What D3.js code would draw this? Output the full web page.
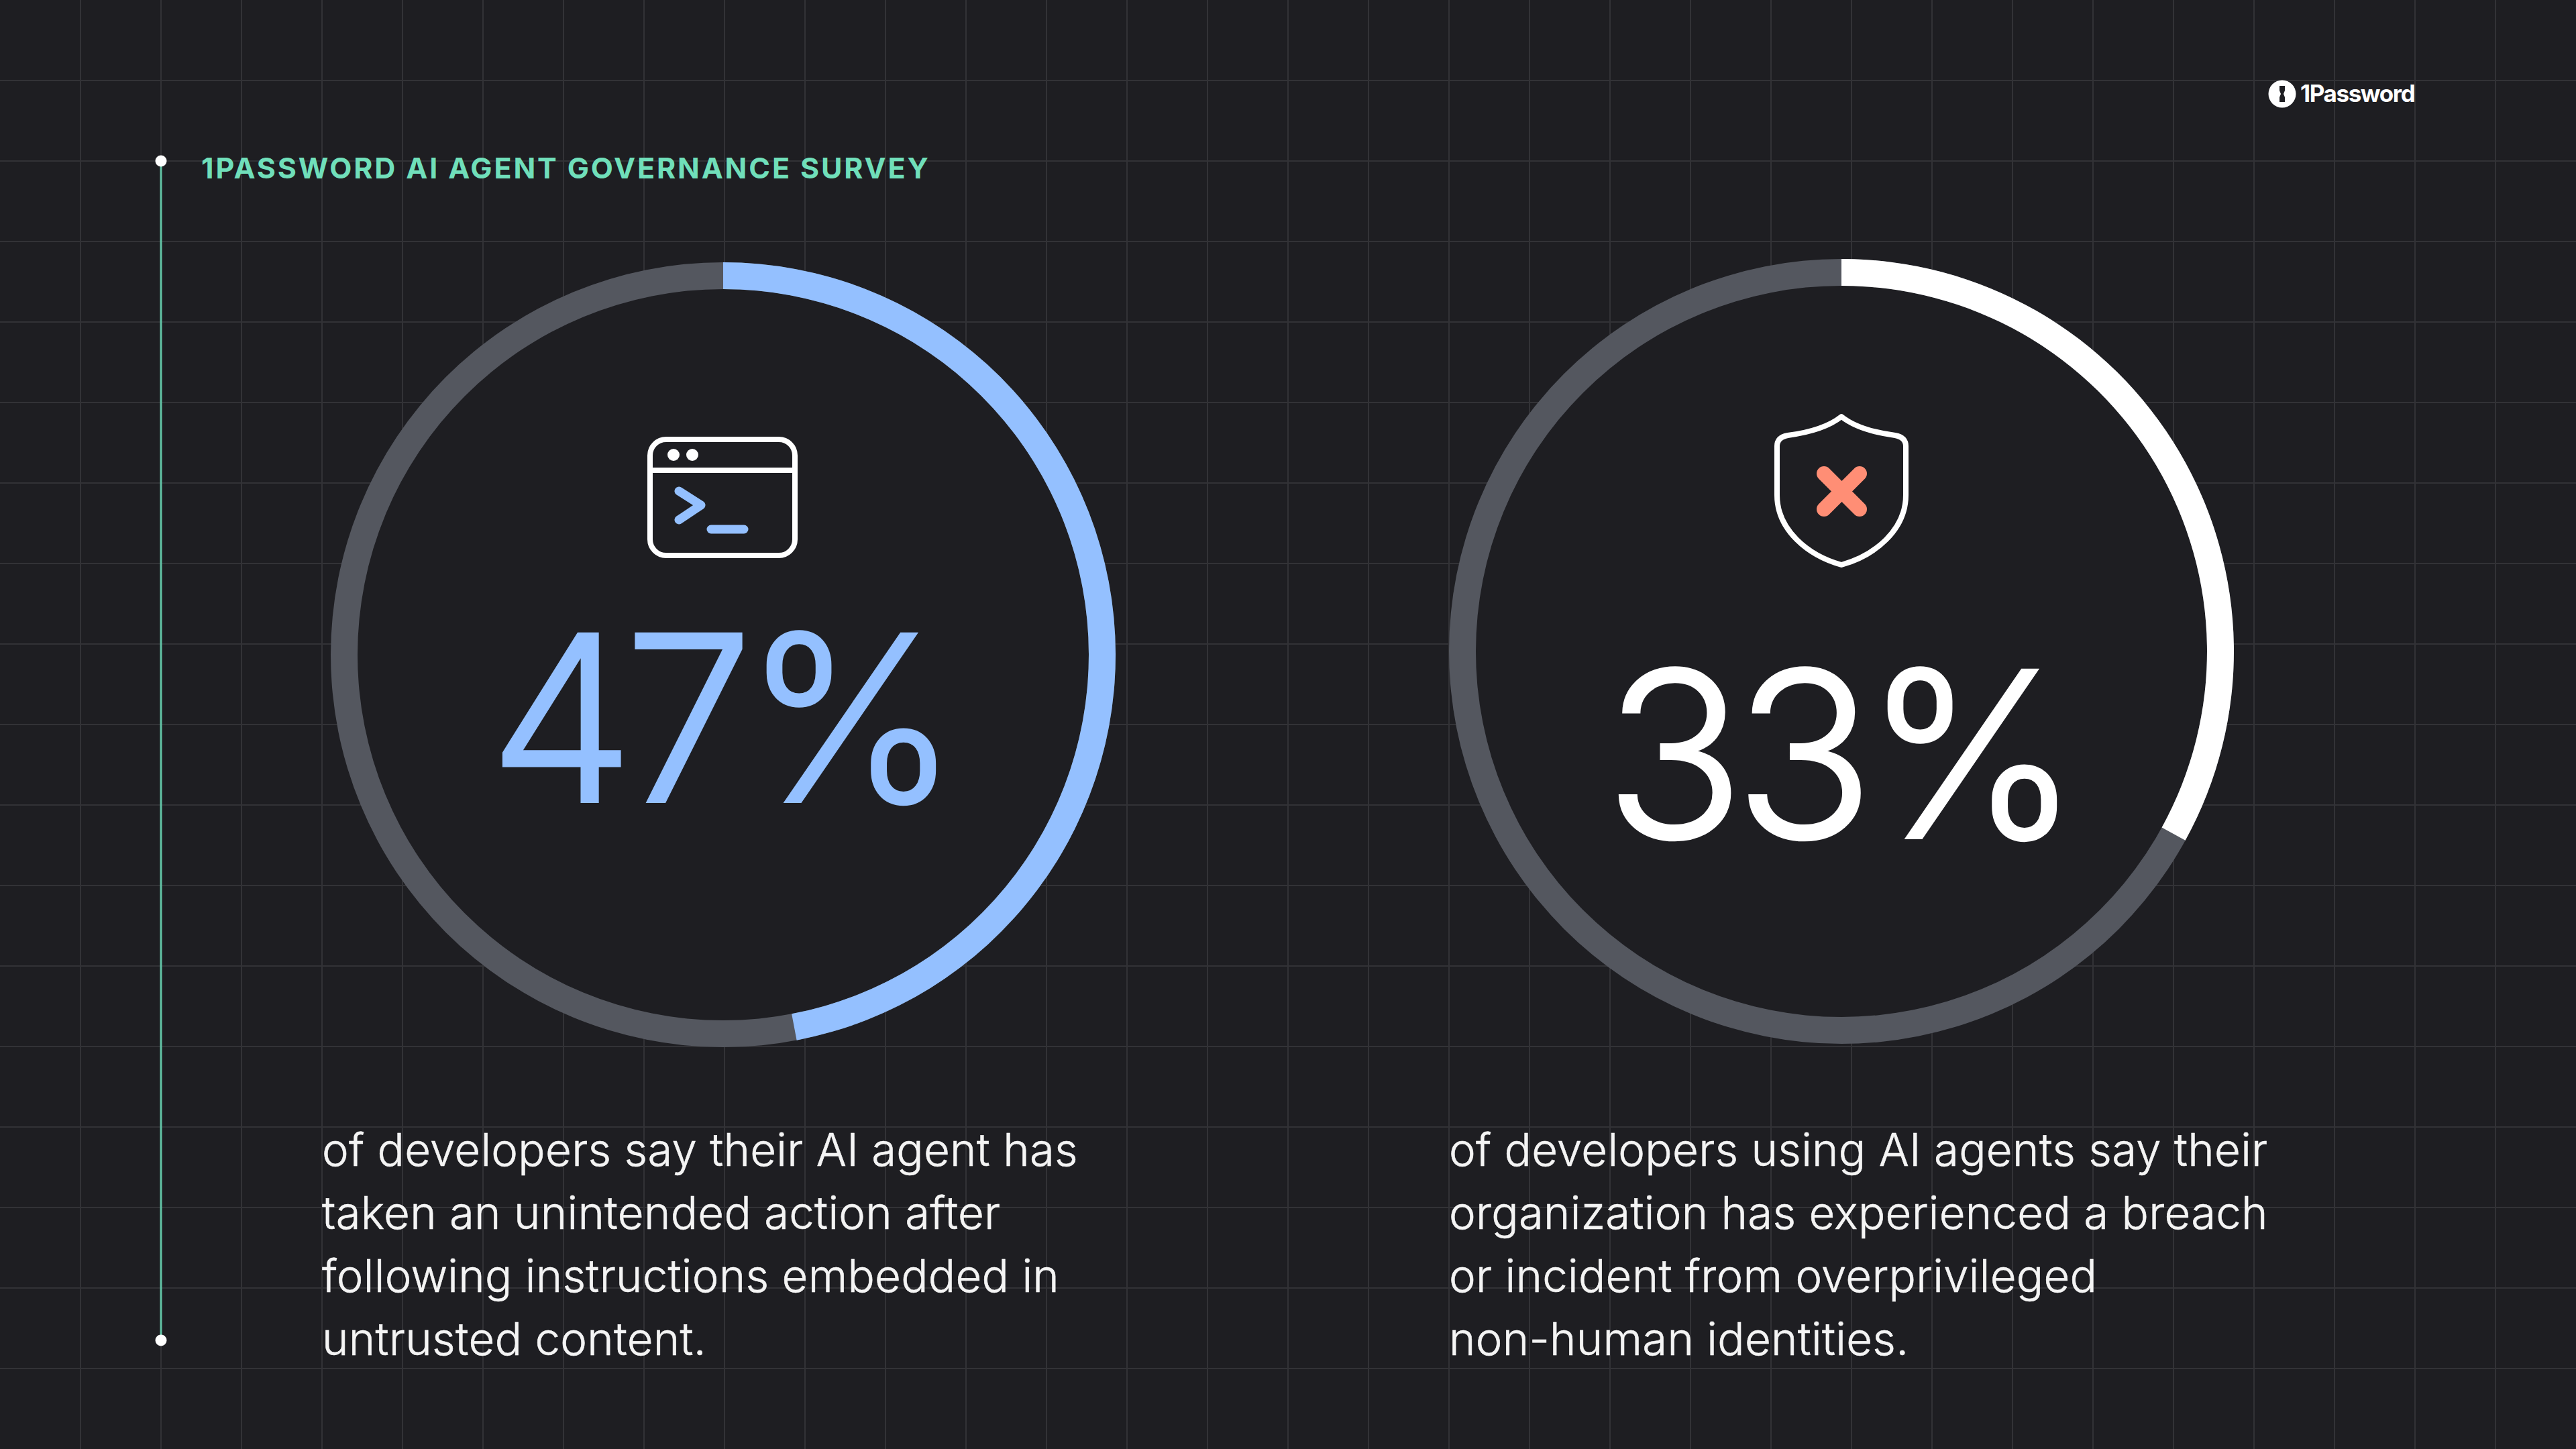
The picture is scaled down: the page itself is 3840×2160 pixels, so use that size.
<!DOCTYPE html>
<html><head><meta charset="utf-8">
<script src="https://cdn.jsdelivr.net/npm/d3@7"></script>
<style>html,body{margin:0;background:#1e1e22;overflow:hidden}svg{display:block}</style>
</head><body><svg id="c" width="3840" height="2160"></svg>
<script>
const surveyTitle = "1PASSWORD AI AGENT GOVERNANCE SURVEY";
const brand = "1Password";
const percentValues = [47, 33];
const percentLabels = ["47%", "33%"];
const captionsLeft = ["of developers say their AI agent has","taken an unintended action after","following instructions embedded in","untrusted content."];
const captionsRight = ["of developers using AI agents say their","organization has experienced a breach","or incident from overprivileged","non-human identities."];
const captions = [captionsLeft, captionsRight];
const gridCellsX = 31, gridCellsY = 17;

const W = 3840, H = 2160, BG = "#1e1e22";
const svg = d3.select("#c");
svg.append("rect").attr("width",W).attr("height",H).attr("fill",BG);
const gx = d3.scaleLinear().domain([0,32]).range([0,3840]);
const gy = d3.scaleLinear().domain([0,18]).range([0,2160]);
const grid = svg.append("g").attr("stroke","#323236").attr("stroke-width",2);
grid.selectAll(".v").data(d3.range(1,gridCellsX+1)).join("line").attr("x1",gx).attr("x2",gx).attr("y1",0).attr("y2",H);
grid.selectAll(".h").data(d3.range(1,gridCellsY+1)).join("line").attr("y1",gy).attr("y2",gy).attr("x1",0).attr("x2",W);

// timeline
svg.append("line").attr("x1",240).attr("x2",240).attr("y1",240).attr("y2",1998).attr("stroke","#62c4a6").attr("stroke-width",3);
svg.selectAll(".dot").data([240,1998]).join("circle").attr("cx",240).attr("cy",d=>d).attr("r",8.5).attr("fill","#fff");

svg.append("text").attr("x",300).attr("y",266).text(surveyTitle)
  .attr("font-family","Inter").attr("font-weight",700).attr("font-size",43).attr("letter-spacing",2.85).attr("fill","#70dfba");

// logo
const logo = svg.append("g");
logo.append("circle").attr("cx",3402).attr("cy",140).attr("r",20.5).attr("fill","#fff");
logo.append("path").attr("d","M3398 128h8v7l-2 5 2 5v7h-8v-7l2-5-2-5z").attr("fill",BG);
logo.append("text").attr("x",3429).attr("y",152).text(brand).attr("font-family","Inter").attr("font-weight",700).attr("font-size",35).attr("letter-spacing",-1.4).attr("fill","#fff");

const tau = 2*Math.PI;
const angle = d3.scaleLinear().domain([0,100]).range([0,tau]);
const rings = [
  {cx:1078,cy:976,color:"#94c0ff",ty:1195},
  {cx:2745,cy:971,color:"#ffffff",ty:1249}
];
const arc = d3.arc().innerRadius(545).outerRadius(585);
rings.forEach((r,i)=>{
  const g = svg.append("g").attr("transform",`translate(${r.cx},${r.cy})`);
  g.append("circle").attr("r",565).attr("fill",BG);
  g.append("path").attr("d",arc({startAngle:0,endAngle:tau})).attr("fill","#54575f");
  g.append("path").attr("d",arc({startAngle:0,endAngle:angle(percentValues[i])})).attr("fill",r.color);
  svg.append("text").attr("x",r.cx-6).attr("y",r.ty).attr("text-anchor","middle").text(percentLabels[i])
    .attr("font-family","Inter").attr("font-weight",300).attr("font-size",344).attr("letter-spacing",-15).attr("fill",r.color).attr("stroke",r.color).attr("stroke-width",4);
});

// icons
const term = svg.append("g").attr("fill","none");
term.append("rect").attr("x",969).attr("y",655).attr("width",216).attr("height",173).attr("rx",24).attr("stroke","#fff").attr("stroke-width",8);
term.append("line").attr("x1",969).attr("x2",1185).attr("y1",701).attr("y2",701).attr("stroke","#fff").attr("stroke-width",8);
term.selectAll("circle").data([1004,1032]).join("circle").attr("cx",d=>d).attr("cy",678).attr("r",9).attr("fill","#fff");
term.append("path").attr("d","M1012 732L1045 753L1012 775").attr("stroke","#94c0ff").attr("stroke-width",13).attr("stroke-linecap","round").attr("stroke-linejoin","round");
term.append("path").attr("d","M1060 789H1109").attr("stroke","#94c0ff").attr("stroke-width",13).attr("stroke-linecap","round");

const sh = svg.append("g").attr("fill","none");
sh.append("path").attr("d","M2745 621C2725 637 2695 645 2665 649Q2649 652 2649 665V738C2649 790 2695 828 2745 842C2795 828 2841 790 2841 738V665Q2841 652 2825 649C2795 645 2765 637 2745 621Z").attr("stroke","#fff").attr("stroke-width",8).attr("stroke-linejoin","round");
sh.append("path").attr("d","M2719 706L2772 759M2772 706L2719 759").attr("stroke","#ff8e75").attr("stroke-width",22).attr("stroke-linecap","round");

// captions
const lineY = d3.scaleLinear().domain([0,3]).range([1738,2020]);
[480,2160].forEach((x,i)=>{
  svg.append("g").selectAll("text").data(captions[i]).join("text")
   .attr("x",x).attr("y",(d,j)=>lineY(j)).text(d=>d)
   .attr("font-family","Inter").attr("font-weight",300).attr("font-size",67).attr("letter-spacing",0.3).attr("fill","#f4f4f4").attr("stroke","#f4f4f4").attr("stroke-width",0.6);
});
</script></body></html>
